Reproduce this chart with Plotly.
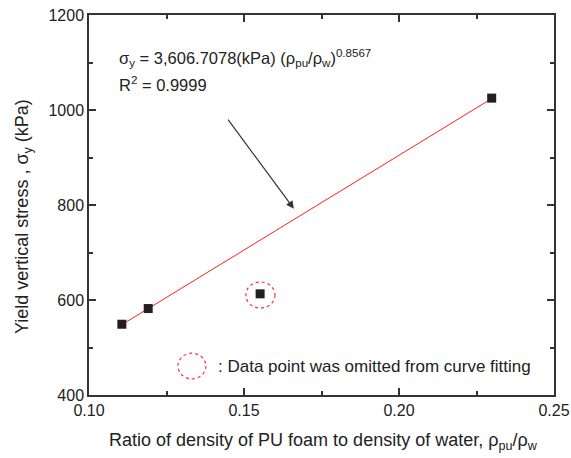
import plotly.graph_objects as go

# Data
ratio = [0.1106, 0.1191, 0.1552, 0.2299]
stress = [549, 582, 613, 1025]
fit_x = [0.1106, 0.2299]
fit_y = [548, 1024]
x_ticks = [0.10, 0.15, 0.20, 0.25]
x_labels = ["0.10", "0.15", "0.20", "0.25"]
y_ticks = [400, 600, 800, 1000, 1200]

FONT = "Liberation Sans, Arial, sans-serif"
INK = "#231f20"

L, R, T, B = 89, 554, 15, 395
W, H = 571, 458

def px(xp):
    return (xp - L) / (R - L)

def py(yp):
    return (B - yp) / (B - T)

fig = go.Figure()
fig.add_trace(go.Scatter(x=fit_x, y=fit_y, mode="lines",
                         line=dict(color="#ff2020", width=1), showlegend=False))
fig.add_trace(go.Scatter(x=ratio, y=stress, mode="markers",
                         marker=dict(symbol="square", size=9, color=INK), showlegend=False))

axis_common = dict(showline=True, linecolor="#333333", linewidth=1.5, mirror="allticks",
                   ticks="inside", ticklen=7, tickwidth=1.5, tickcolor="#333333",
                   showgrid=False, zeroline=False, automargin=False,
                   tickfont=dict(family=FONT, size=16, color="#222222"))

fig.update_xaxes(range=[0.10, 0.25], tickvals=x_ticks, ticktext=x_labels,
                 minor=dict(ticks="inside", ticklen=4, tickwidth=1.5, tickcolor="#333333", dtick=0.025, tick0=0.1),
                 **axis_common)
fig.update_yaxes(range=[400, 1200], tickvals=y_ticks,
                 minor=dict(ticks="inside", ticklen=4, tickwidth=1.5, tickcolor="#333333", dtick=100, tick0=400),
                 **axis_common)

# Dashed circles
fig.add_shape(type="circle", xref="x", yref="y",
              x0=0.1553 - 0.0047, x1=0.1553 + 0.0047, y0=610.5 - 27.5, y1=610.5 + 27.5,
              line=dict(color="#ff3030", width=1.2, dash="dot"))
fig.add_shape(type="circle", xref="x", yref="y",
              x0=0.1332 - 0.0045, x1=0.1332 + 0.0045, y0=461 - 27, y1=461 + 27,
              line=dict(color="#ff3030", width=1.2, dash="dot"))

tf = dict(family=FONT, size=16.5, color="#222222")
fig.add_annotation(x=px(117), y=py(58), xref="paper", yref="paper", xanchor="left", yanchor="middle",
                   showarrow=False, font=tf,
                   text="σ<sub>y</sub> = 3,606.7078(kPa) (ρ<sub>pu</sub>/ρ<sub>w</sub>)<sup>0.8567</sup>")
fig.add_annotation(x=px(117), y=py(84), xref="paper", yref="paper", xanchor="left", yanchor="middle",
                   showarrow=False, font=tf, text="R<sup>2</sup> = 0.9999")
fig.add_annotation(x=px(216), y=py(366), xref="paper", yref="paper", xanchor="left", yanchor="middle",
                   showarrow=False, font=dict(family=FONT, size=17, color="#222222"),
                   text=": Data point was omitted from curve fitting")

# Arrow
fig.add_annotation(x=0.1661, y=792, ax=0.1445, ay=983, xref="x", yref="y", axref="x", ayref="y",
                   showarrow=True, arrowhead=2, arrowsize=1.3, arrowwidth=1.2, arrowcolor="#333333", text="")

# Axis titles
fig.add_annotation(x=px(323), y=py(441), xref="paper", yref="paper", showarrow=False,
                   xanchor="center", yanchor="middle",
                   font=dict(family=FONT, size=18, color="#222222"),
                   text="Ratio of density of PU foam to density of water, ρ<sub>pu</sub>/ρ<sub>w</sub>")
fig.add_annotation(x=px(23), y=py(217), xref="paper", yref="paper", showarrow=False,
                   xanchor="center", yanchor="middle", textangle=-90,
                   font=dict(family=FONT, size=18, color="#222222"),
                   text="Yield vertical stress , σ<sub>y</sub> (kPa)")

fig.update_layout(width=W, height=H, margin=dict(l=L, r=W - R, t=T, b=H - B, autoexpand=False),
                  paper_bgcolor="white", plot_bgcolor="white", showlegend=False)

fig.write_html("out.html")
